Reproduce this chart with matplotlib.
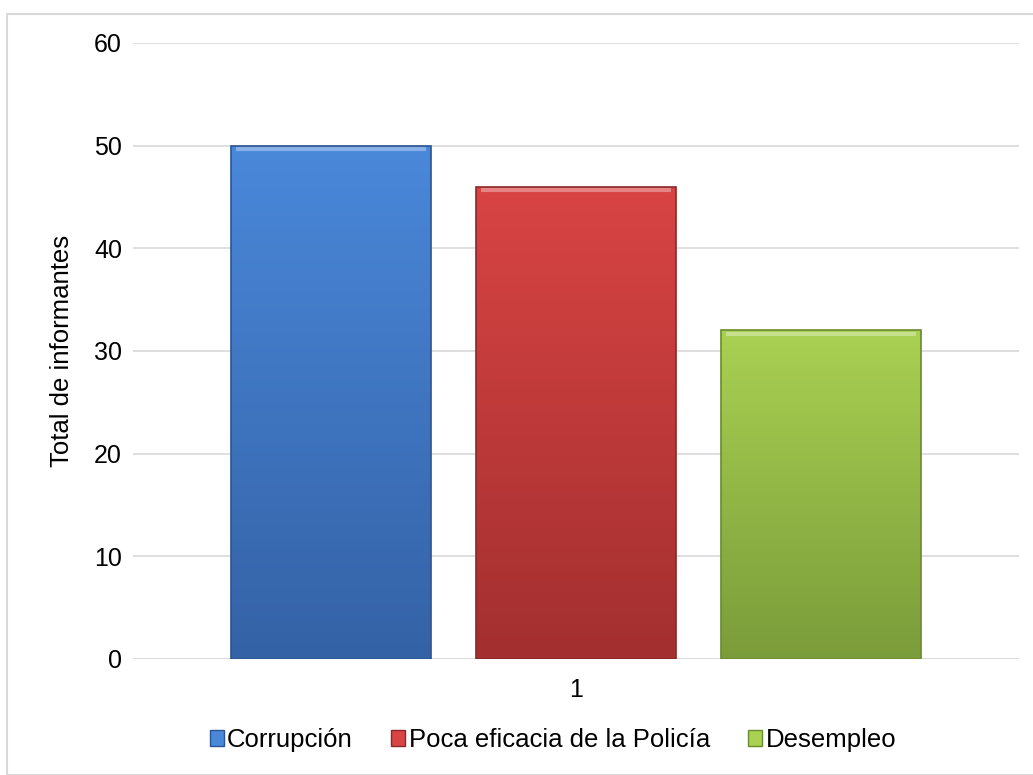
import numpy as np
import matplotlib.pyplot as plt
from matplotlib.patches import Rectangle
from matplotlib.colors import LinearSegmentedColormap

plt.rcParams['font.family'] = ['Liberation Sans', 'DejaVu Sans']

series = ['Corrupción', 'Poca eficacia de la Policía', 'Desempleo']
values = [50, 46, 32]
category = '1'
colors_top = ['#4a88da', '#d94444', '#a9d152']
colors_bottom = ['#3462a6', '#a32f2f', '#7b9c3a']
colors_edge = ['#2c5590', '#8a2828', '#6a8a30']

fig = plt.figure(figsize=(10.33, 7.75), dpi=100)
ax = fig.add_axes([133 / 1033, 1 - 659 / 775, (1019 - 133) / 1033, (659 - 43) / 775])

# marco del gráfico
fig.patches.append(Rectangle((7 / 1033, 0), 1.2, (775 - 14) / 775, transform=fig.transFigure,
                             fill=False, edgecolor='#d9d9d9', linewidth=1.5))

width = 0.816
xs = np.arange(len(values))
handles = []
for i, (x, v) in enumerate(zip(xs, values)):
    cmap = LinearSegmentedColormap.from_list(f'g{i}', [colors_bottom[i], colors_top[i]])
    grad = np.linspace(0, 1, 256).reshape(-1, 1)
    rect = Rectangle((x - width / 2, 0), width, v, facecolor='none', edgecolor=colors_edge[i],
                     linewidth=1.2, zorder=3)
    ax.add_patch(rect)
    im = ax.imshow(grad, cmap=cmap, origin='lower', aspect='auto',
                   extent=(x - width / 2, x + width / 2, 0, v), zorder=2)
    im.set_clip_path(rect)
    # bisel superior claro
    ax.plot([x - width / 2 + 0.02, x + width / 2 - 0.02], [v - 0.35, v - 0.35],
            color='white', alpha=0.35, linewidth=3, zorder=3, solid_capstyle='butt')
    handles.append(Rectangle((0, 0), 1, 1, facecolor=colors_top[i], edgecolor=colors_edge[i]))

ax.set_xlim(-0.809, 2.809)
ax.set_ylim(0, 60)
ax.set_yticks(range(0, 61, 10))
ax.set_xticks([1])
ax.set_xticklabels([category])
ax.grid(axis='y', color='#d9d9d9', linewidth=1.2, zorder=0)
ax.set_axisbelow(True)
for s in ax.spines.values():
    s.set_visible(False)
ax.axhline(0, color='#d9d9d9', linewidth=2, zorder=1)
ax.tick_params(axis='both', length=0, labelsize=18, pad=8)
ax.tick_params(axis='x', pad=14)
ax.set_ylabel('Total de informantes', fontsize=18.5, labelpad=14)

fig.legend(handles, series, loc='center', bbox_to_anchor=(553 / 1033, 1 - 740 / 775),
           ncol=3, frameon=False, fontsize=18.5, handlelength=0.55, handleheight=0.55,
           handletextpad=0.12, columnspacing=1.5)

fig.savefig('out.png', dpi=100)
